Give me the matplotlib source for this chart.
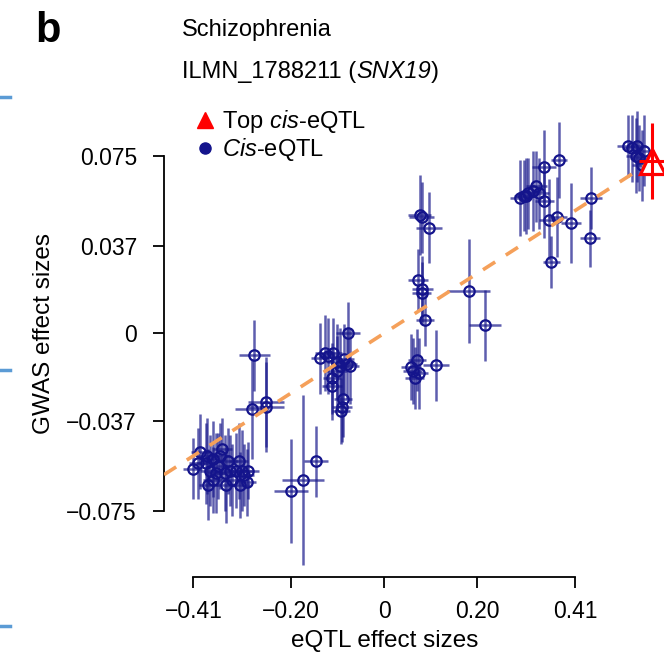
import matplotlib
matplotlib.use('Agg')
import matplotlib.pyplot as plt
from matplotlib.lines import Line2D

plt.rcParams['font.family'] = ['Liberation Sans', 'DejaVu Sans']
plt.rcParams['mathtext.fontset'] = 'custom'
plt.rcParams['mathtext.rm'] = 'Liberation Sans'
plt.rcParams['mathtext.it'] = 'Liberation Sans:italic'

# cis-eQTL effect sizes
eqtl = [-0.412, -0.395, -0.384, -0.374, -0.367, -0.357, -0.348, -0.342, -0.335, -0.327,
        -0.318, -0.309, -0.301, -0.292, -0.369, -0.400, -0.380, -0.362, -0.353, -0.331,
        -0.313, -0.305, -0.296, -0.378, -0.340,
        -0.279, -0.284, -0.254, -0.254,
        -0.138, -0.127, -0.110, -0.102, -0.078, -0.080, -0.074, -0.112, -0.112, -0.089,
        -0.091, -0.093, -0.102, -0.121, -0.087, -0.095, -0.147, -0.175, -0.200,
        0.080, 0.097, 0.076, 0.072, 0.082, 0.080, 0.087, 0.181, 0.217, 0.070, 0.061,
        0.065, 0.057, 0.074, 0.112,
        0.344, 0.376, 0.327, 0.309, 0.292, 0.333, 0.305, 0.319, 0.300, 0.344, 0.354,
        0.372, 0.401, 0.359, 0.444, 0.442,
        0.532, 0.543, 0.547, 0.558, 0.523, 0.540, 0.553]
eqtl_se = [0.021, 0.020, 0.020, 0.021, 0.020, 0.022, 0.020, 0.021, 0.020, 0.022,
           0.021, 0.020, 0.021, 0.022, 0.020, 0.019, 0.021, 0.020, 0.022, 0.021,
           0.020, 0.022, 0.021, 0.020, 0.021,
           0.034, 0.036, 0.038, 0.038,
           0.020, 0.021, 0.020, 0.022, 0.026, 0.021, 0.020, 0.020, 0.021, 0.020,
           0.021, 0.020, 0.021, 0.020, 0.021, 0.020, 0.026, 0.045, 0.036,
           0.026, 0.028, 0.024, 0.021, 0.022, 0.021, 0.019, 0.047, 0.034, 0.020, 0.021,
           0.020, 0.021, 0.020, 0.028,
           0.026, 0.017, 0.022, 0.021, 0.022, 0.021, 0.022, 0.021, 0.022, 0.020, 0.022,
           0.020, 0.021, 0.019, 0.024, 0.021,
           0.021, 0.020, 0.020, 0.021, 0.022, 0.020, 0.021]
gwas = [-0.0572, -0.050, -0.055, -0.058, -0.053, -0.056, -0.049, -0.059, -0.054, -0.062,
        -0.058, -0.064, -0.060, -0.058, -0.062, -0.055, -0.052, -0.059, -0.052, -0.058,
        -0.054, -0.058, -0.063, -0.064, -0.064,
        -0.0093, -0.032, -0.029, -0.031,
        -0.0106, -0.0085, -0.0085, -0.012, 0.0, -0.013, -0.014, -0.019, -0.0225, -0.028,
        -0.031, -0.033, -0.016, -0.0097, -0.011, -0.014, -0.054, -0.062, -0.0665,
        0.049, 0.0445, 0.050, 0.0225, 0.0186, 0.017, 0.0055, 0.0178, 0.0034, -0.0114, -0.016,
        -0.019, -0.0144, -0.017, -0.0136,
        0.070, 0.073, 0.062, 0.059, 0.057, 0.059, 0.058, 0.060, 0.058, 0.056, 0.048,
        0.049, 0.0466, 0.030, 0.057, 0.040,
        0.078, 0.079, 0.074, 0.077, 0.079, 0.075, 0.071]
gwas_se = [0.013, 0.016, 0.017, 0.015, 0.016, 0.014, 0.013, 0.016, 0.014, 0.015,
           0.016, 0.014, 0.013, 0.012, 0.014, 0.015, 0.016, 0.017, 0.014, 0.015,
           0.016, 0.017, 0.014, 0.015, 0.016,
           0.015, 0.021, 0.019, 0.019,
           0.015, 0.016, 0.015, 0.016, 0.013, 0.015, 0.016, 0.015, 0.014, 0.016,
           0.015, 0.014, 0.015, 0.016, 0.015, 0.016, 0.015, 0.036, 0.022,
           0.015, 0.015, 0.017, 0.013, 0.014, 0.013, 0.011, 0.022, 0.015, 0.013, 0.014,
           0.013, 0.014, 0.015, 0.015,
           0.016, 0.016, 0.015, 0.015, 0.016, 0.015, 0.016, 0.017, 0.015, 0.016, 0.017,
           0.017, 0.017, 0.011, 0.013, 0.012,
           0.014, 0.015, 0.014, 0.015, 0.013, 0.016, 0.015]

# top cis-eQTL
top_eqtl, top_eqtl_se = 0.575, 0.028
top_gwas, top_gwas_se = 0.0726, 0.016

xticks = [-0.41, -0.20, 0, 0.20, 0.41]
xticklabels = ['\u22120.41', '\u22120.20', '0', '0.20', '0.41']
yticks = [-0.075, -0.037, 0, 0.037, 0.075]
yticklabels = ['\u22120.075', '\u22120.037', '0', '0.037', '0.075']

navy = '#14148c'

fig = plt.figure(figsize=(6.64, 6.58), dpi=100)
ax = fig.add_axes([0.247, 0.1226, 0.753, 0.7421])

ax.errorbar(eqtl, gwas, xerr=eqtl_se, yerr=gwas_se, fmt='o', ms=7.5, mfc='none',
            mec=navy, mew=1.6, ecolor=(0.1, 0.1, 0.55, 0.7), elinewidth=1.8,
            capsize=0, zorder=2)
ax.plot([top_eqtl], [top_gwas], ls='none', marker='^', ms=18, mfc='white', mec='red',
        mew=2.3, zorder=4)
ax.errorbar([top_eqtl], [top_gwas], xerr=[top_eqtl_se], yerr=[top_gwas_se], fmt='none',
            ecolor='red', elinewidth=2.2, capsize=0, zorder=5)

# SMR slope line through the origin
ax.axline((0, 0), slope=top_gwas / top_eqtl, color='#f5a05a', lw=2.6,
          dashes=(4, 3.5), zorder=3)

ax.set_xlim(-0.4733, 0.601)
ax.set_ylim(-0.1031, 0.1031)
ax.set_xticks(xticks)
ax.set_xticklabels(xticklabels)
ax.set_yticks(yticks)
ax.set_yticklabels(yticklabels)
ax.tick_params(labelsize=16.5, length=8, width=1.3, direction='out')
ax.tick_params(axis='x', pad=8)
ax.tick_params(axis='y', pad=11.5)
for s in ['top', 'right']:
    ax.spines[s].set_visible(False)
for s in ['left', 'bottom']:
    ax.spines[s].set_linewidth(1.3)
ax.spines['left'].set_bounds(-0.075, 0.075)
ax.spines['bottom'].set_bounds(-0.41, 0.41)
ax.set_xlabel('eQTL effect sizes', fontsize=17.5)
ax.set_ylabel('GWAS effect sizes', fontsize=17.5)
ax.xaxis.set_label_coords(0.4406, -0.108)
ax.yaxis.set_label_coords(-0.218, 0.5)

handles = [Line2D([], [], ls='none', marker='^', ms=12, color='red'),
           Line2D([], [], ls='none', marker='o', ms=8, color=navy)]
labels = ['Top $\\mathit{cis}$-eQTL', '$\\mathit{Cis}$-eQTL']
fig.legend(handles, labels, loc='upper left', bbox_to_anchor=(196 / 664, 1 - 108 / 658),
           frameon=False, fontsize=17, handlelength=0.8, handletextpad=0.3,
           labelspacing=0.05, borderaxespad=0, borderpad=0)

fig.text(35 / 664, 1 - 42 / 658, 'b', fontsize=30, fontweight='bold', va='baseline')
fig.text(182 / 664, 1 - 36 / 658, 'Schizophrenia', fontsize=17, va='baseline')
t1 = fig.text(182 / 664, 1 - 78 / 658, 'ILMN_1788211 (', fontsize=17, va='baseline')
t2 = ax.annotate('SNX19', xy=(1, 0), xycoords=t1, va='bottom', ha='left',
                 fontsize=17, fontstyle='italic', annotation_clip=False)
ax.annotate(')', xy=(1, 0), xycoords=t2, va='bottom', ha='left', fontsize=17,
            annotation_clip=False)

# stray marks from the neighbouring panel
for yy in [97, 370, 626]:
    fig.add_artist(Line2D([0, 10 / 664], [1 - yy / 658] * 2, color='#5b9bd5', lw=2.5))

fig.savefig('out.png', dpi=100)
